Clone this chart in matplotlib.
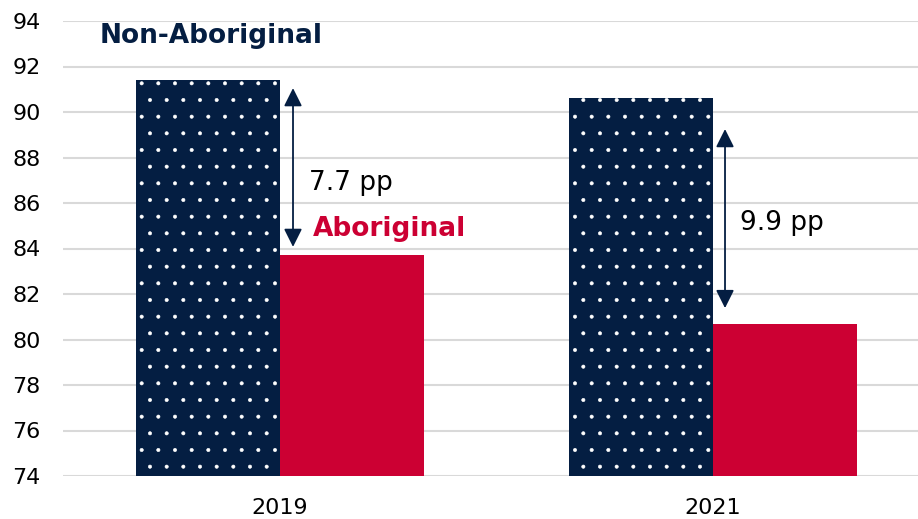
import numpy as np
from matplotlib import pyplot as plt

# data
years = ['2019', '2021']
non_aboriginal = [91.4, 90.6]
aboriginal = [83.7, 80.7]
gap_labels = ['7.7 pp', '9.9 pp']

# gap arrows: (top, bottom) in data units
arrow_top = [91.05, 89.25]
arrow_bottom = [84.07, 81.38]

NAVY = '#041E42'
RED = '#CC0033'
GRID = '#D9D9D9'

plt.rcParams['hatch.color'] = 'white'
plt.rcParams['hatch.linewidth'] = 0.4
plt.rcParams['font.family'] = ['DejaVu Sans']

fig = plt.figure(figsize = (9.18, 5.19), dpi = 100)
ax = fig.add_axes([63 / 918, 43 / 519, 855 / 918, 455 / 519])

x = np.arange(len(years))
w = 0.3326

ax.bar(x - w, non_aboriginal, width = w, align = 'edge', color = NAVY,
       hatch = '.', linewidth = 0, zorder = 2)
ax.bar(x, aboriginal, width = w, align = 'edge', color = RED,
       linewidth = 0, zorder = 2)

ax.set_ylim(74, 94)
ax.set_yticks(range(74, 95, 2))
ax.set_xlim(-0.5012, 1.4734)
ax.set_xticks(x)
ax.set_xticklabels(years)

ax.tick_params(axis = 'both', length = 0, labelsize = 16, colors = 'black')
ax.tick_params(axis = 'y', pad = 16)
ax.tick_params(axis = 'x', pad = 16)

for s in ax.spines.values():
  s.set_visible(False)
ax.grid(True, axis = 'y', color = GRID, linewidth = 1.5, zorder = 0)
ax.set_axisbelow(True)

# gap arrows and labels
arrow_x = [0.030, 1.0277]
label_pos = [(0.067, 86.57), (1.0624, 84.81)]
for i in range(len(years)):
  ax.annotate('', xy = (arrow_x[i], arrow_top[i]),
              xytext = (arrow_x[i], arrow_bottom[i]),
              arrowprops = dict(arrowstyle = '<|-|>,head_length=1.1,head_width=0.55',
                                mutation_scale = 10, color = NAVY, lw = 1.3,
                                shrinkA = 0, shrinkB = 0), zorder = 3)
  ax.text(label_pos[i][0], label_pos[i][1], gap_labels[i], fontsize = 19,
          color = 'black', va = 'baseline', ha = 'left')

ax.text(-0.4157, 93.03, 'Non-Aboriginal', fontsize = 19, fontweight = 'bold',
        color = NAVY, va = 'baseline', ha = 'left')
ax.text(0.0762, 84.55, 'Aboriginal', fontsize = 19, fontweight = 'bold',
        color = RED, va = 'baseline', ha = 'left')

fig.savefig('out.png', dpi = 100)
